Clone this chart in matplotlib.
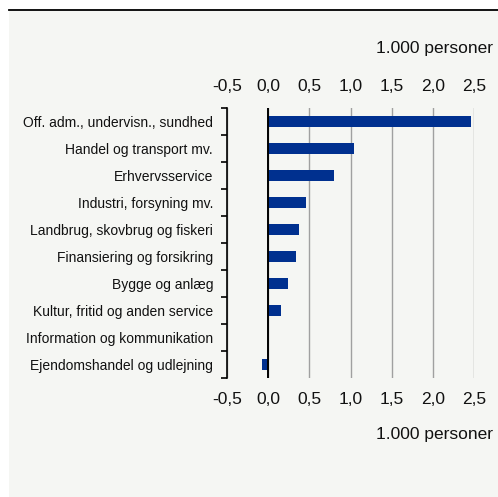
import matplotlib
matplotlib.use("Agg")
import matplotlib.pyplot as plt
from matplotlib.patches import Rectangle
from matplotlib.lines import Line2D
from matplotlib.ticker import FixedLocator, FuncFormatter

plt.rcParams["font.family"] = ["Liberation Sans", "DejaVu Sans"]

# Change in employment by industry (1.000 persons)
categories = [
    "Off. adm., undervisn., sundhed",
    "Handel og transport mv.",
    "Erhvervsservice",
    "Industri, forsyning mv.",
    "Landbrug, skovbrug og fiskeri",
    "Finansiering og forsikring",
    "Bygge og anlæg",
    "Kultur, fritid og anden service",
    "Information og kommunikation",
    "Ejendomshandel og udlejning",
]
values = [2.46, 1.04, 0.80, 0.46, 0.37, 0.34, 0.245, 0.15, 0.0, -0.07]
x_ticks = [-0.5, 0.0, 0.5, 1.0, 1.5, 2.0, 2.5]
unit_label = "1.000 personer"

W, H = 498, 497
fig = plt.figure(figsize=(W / 100, H / 100), dpi=100)
fig.patch.set_facecolor("white")

# Panel background and top rule
bg = "#f5f6f3"
fig.patches.append(Rectangle((9 / W, 0), 1 - 9 / W, 1 - 9 / H,
                             transform=fig.transFigure, facecolor=bg,
                             edgecolor="none", zorder=-10))
fig.lines.append(Line2D([9 / W, 1], [1 - 9.5 / H, 1 - 9.5 / H],
                        transform=fig.transFigure, color="black", lw=1.3))

left, right = 227 / W, 474.3 / W
top, bottom = 1 - 108.3 / H, 1 - 378.3 / H
ax = fig.add_axes([left, bottom, right - left, top - bottom])
ax.set_facecolor(bg)

ypos = list(range(len(categories)))
ax.barh(ypos, values, height=0.4, color="#00308f", zorder=3)

ax.set_xlim(-0.5, 2.5)
ax.set_ylim(len(categories) - 0.5, -0.5)

ax.xaxis.set_major_locator(FixedLocator(x_ticks))
ax.xaxis.set_major_formatter(FuncFormatter(lambda v, p: f"{v:.1f}".replace(".", ",")))
ax.tick_params(axis="x", which="major", length=0, labelsize=12.5,
               labeltop=True, labelbottom=True, top=False, bottom=False,
               pad=10, colors="#111111")
ax.grid(axis="x", color="#a0a0a0", lw=1, zorder=1)
ax.axvline(0, color="black", lw=1.4, zorder=4)

ax.set_yticks(ypos)
ax.set_yticklabels(categories)
ax.yaxis.set_minor_locator(FixedLocator([i - 0.5 for i in range(len(categories) + 1)]))
ax.tick_params(axis="y", which="major", length=0, pad=10, labelsize=10,
               colors="#111111")
ax.tick_params(axis="y", which="minor", length=4, width=1.2, color="black")

for s in ["top", "right", "bottom"]:
    ax.spines[s].set_visible(False)
ax.spines["left"].set_color("black")
ax.spines["left"].set_linewidth(1.2)

fig.text(493 / W, 1 - 49 / H, unit_label, ha="right", va="center",
         fontsize=12.5, color="#111111")
fig.text(493 / W, 1 - 435 / H, unit_label, ha="right", va="center",
         fontsize=12.5, color="#111111")

fig.savefig("out.png", dpi=100, facecolor=fig.get_facecolor())
